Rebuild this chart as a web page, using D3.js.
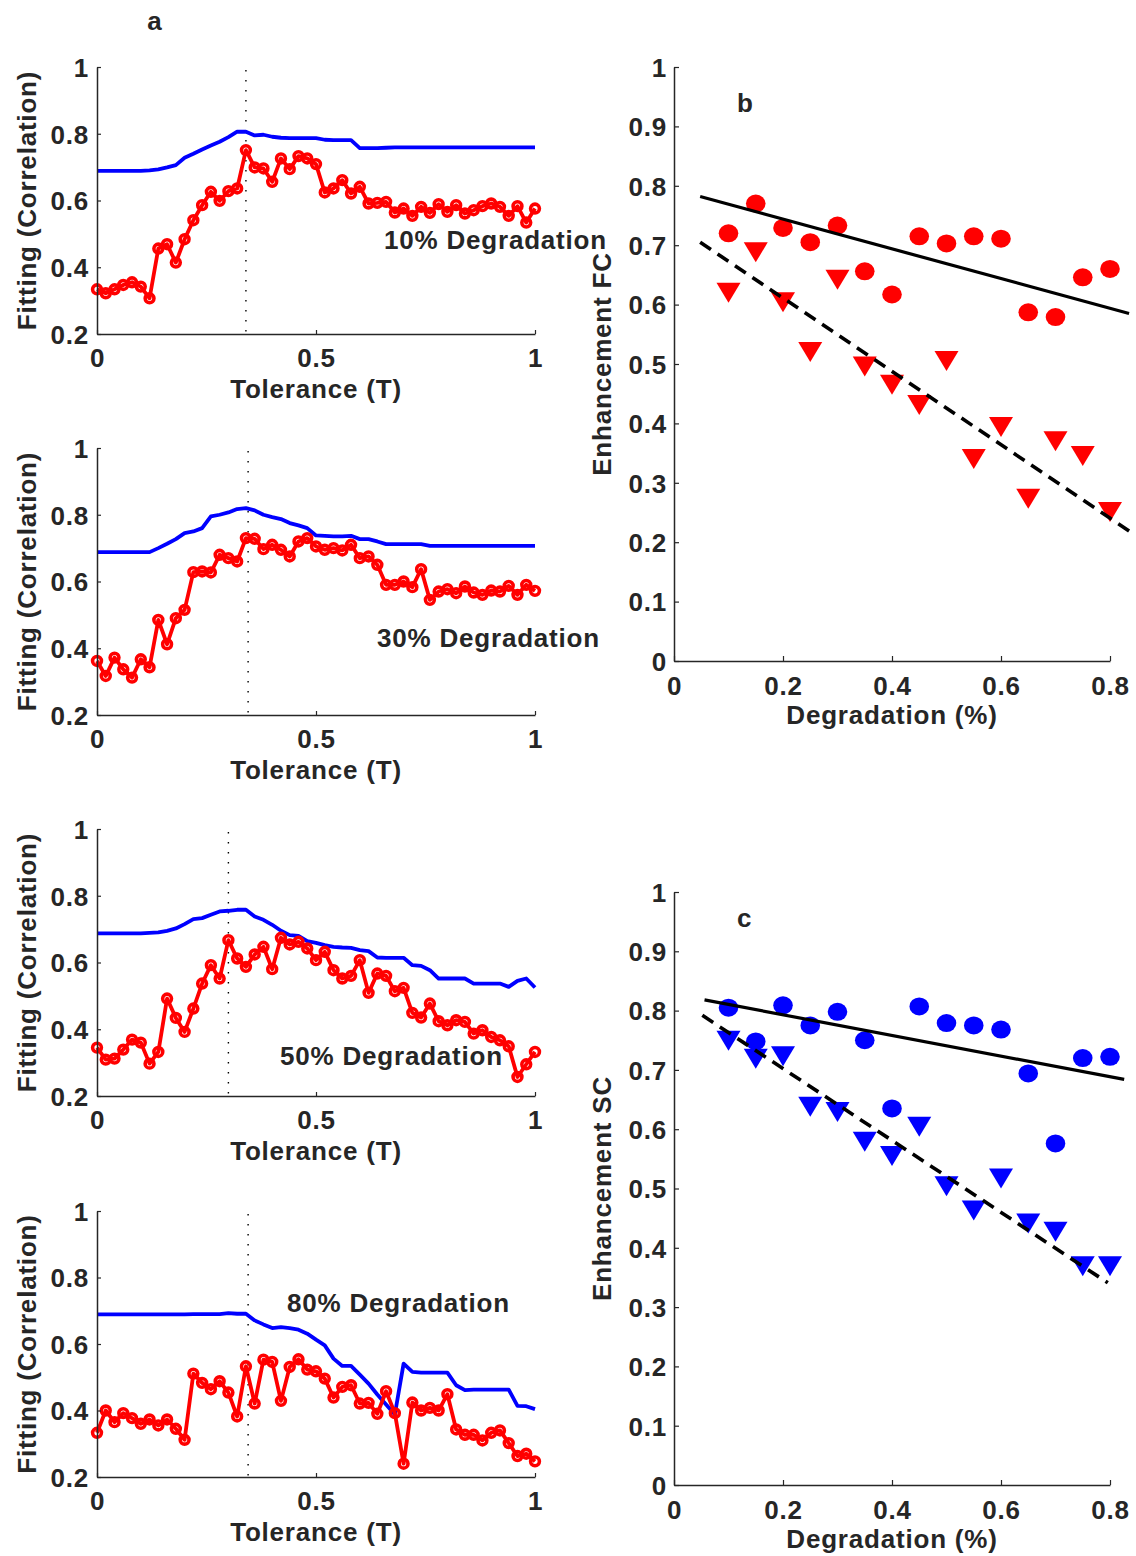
<!DOCTYPE html>
<html><head><meta charset="utf-8">
<script src="https://cdn.jsdelivr.net/npm/d3@7"></script>
<style>
body{margin:0;background:#fff;}
text{font-family:"Liberation Sans",Arial,Helvetica,sans-serif;font-weight:bold;fill:#262626;letter-spacing:0.8px;}
</style></head><body>
<svg id="chart" width="1136" height="1556"></svg>
<script>
// ---------------- DATA ----------------
const tolerance = [0,0.02,0.04,0.06,0.08,0.1,0.12,0.14,0.16,0.18,0.2,0.22,0.24,0.26,0.28,0.3,0.32,0.34,0.36,0.38,0.4,0.42,0.44,0.46,0.48,0.5,0.52,0.54,0.56,0.58,0.6,0.62,0.64,0.66,0.68,0.7,0.72,0.74,0.76,0.78,0.8,0.82,0.84,0.86,0.88,0.9,0.92,0.94,0.96,0.98,1];

const red10 = [0.334,0.322,0.334,0.347,0.355, 0.342,0.307,0.456,0.469,0.414, 0.484,0.541,0.586,0.626,0.599, 0.628,0.636,0.751,0.699,0.696, 0.656,0.726,0.694,0.733,0.726, 0.709,0.624,0.636,0.661,0.621, 0.641,0.591,0.593,0.596,0.564, 0.576,0.554,0.581,0.563,0.589, 0.566,0.586,0.561,0.571,0.583, 0.591,0.581,0.554,0.583,0.534, 0.576];
const blue10 = [0.689,0.689,0.689,0.689,0.689, 0.689,0.690,0.693,0.699,0.706, 0.728,0.740,0.753,0.765,0.776, 0.790,0.806,0.806,0.795,0.797, 0.791,0.788,0.787,0.787,0.787, 0.787,0.782,0.781,0.781,0.781, 0.757,0.757,0.757,0.758,0.759, 0.759,0.759,0.759,0.759,0.759, 0.759,0.759,0.759,0.759,0.759, 0.759,0.759,0.759,0.759,0.759, 0.759];

const red30 = [0.362,0.317,0.372,0.337,0.312, 0.367,0.343,0.485,0.412,0.490, 0.515,0.628,0.630,0.627,0.680, 0.670,0.660,0.730,0.728,0.697, 0.710,0.695,0.675,0.720,0.730, 0.705,0.695,0.700,0.693,0.710, 0.670,0.675,0.650,0.590,0.590, 0.600,0.583,0.637,0.545,0.570, 0.577,0.565,0.585,0.567,0.560, 0.573,0.570,0.587,0.560,0.590, 0.572];
const blue30 = [0.688,0.688,0.688,0.688,0.688, 0.688,0.688,0.700,0.713,0.727, 0.745,0.750,0.760,0.795,0.800, 0.807,0.817,0.820,0.813,0.800, 0.793,0.787,0.775,0.768,0.760, 0.738,0.737,0.735,0.735,0.737, 0.727,0.727,0.720,0.712,0.712, 0.712,0.712,0.712,0.707,0.707, 0.707,0.707,0.707,0.707,0.707, 0.707,0.707,0.707,0.707,0.707, 0.707];

const red50 = [0.345,0.309,0.312,0.339,0.369, 0.360,0.297,0.332,0.492,0.434, 0.392,0.462,0.537,0.592,0.552, 0.667,0.612,0.587,0.624,0.647, 0.580,0.674,0.654,0.662,0.642, 0.607,0.632,0.577,0.552,0.560, 0.607,0.509,0.567,0.560,0.514, 0.524,0.449,0.435,0.477,0.424, 0.412,0.427,0.422,0.387,0.397, 0.377,0.367,0.349,0.257,0.295, 0.332];
const blue50 = [0.687,0.687,0.687,0.687,0.687, 0.687,0.689,0.690,0.695,0.702, 0.715,0.730,0.733,0.743,0.753, 0.755,0.758,0.758,0.738,0.728, 0.713,0.695,0.682,0.680,0.664, 0.659,0.652,0.647,0.645,0.644, 0.637,0.634,0.615,0.614,0.614, 0.614,0.592,0.590,0.577,0.552, 0.552,0.552,0.552,0.537,0.537, 0.537,0.537,0.527,0.545,0.552, 0.525];

const red80 = [0.333,0.400,0.365,0.392,0.377, 0.360,0.373,0.355,0.373,0.345, 0.312,0.511,0.483,0.464,0.488, 0.454,0.382,0.533,0.421,0.553, 0.546,0.429,0.531,0.554,0.523, 0.518,0.496,0.439,0.471,0.476, 0.421,0.423,0.390,0.458,0.392, 0.240,0.424,0.400,0.408,0.400, 0.449,0.343,0.327,0.327,0.310, 0.333,0.340,0.302,0.263,0.270, 0.247];
const blue80 = [0.689,0.689,0.689,0.689,0.689, 0.689,0.689,0.689,0.689,0.689, 0.689,0.690,0.690,0.690,0.690, 0.693,0.691,0.691,0.671,0.659, 0.648,0.651,0.648,0.643,0.631, 0.613,0.596,0.556,0.534,0.534, 0.508,0.481,0.448,0.418,0.388, 0.541,0.516,0.514,0.514,0.514, 0.514,0.476,0.461,0.463,0.463, 0.463,0.463,0.463,0.414,0.413, 0.404];

const degradationLabels = ["10% Degradation","30% Degradation","50% Degradation","80% Degradation"];
const optimalTolerance = [0.34, 0.345, 0.30, 0.345];

const fittingTicks = [0.2,0.4,0.6,0.8,1];
const toleranceTicks = [0,0.5,1];

const degradation = [0.1,0.15,0.2,0.25,0.3,0.35,0.4,0.45,0.5,0.55,0.6,0.65,0.7,0.75,0.8];
const fcCircles   = [0.720,0.770,0.729,0.705,0.733,0.656,0.617,0.715,0.703,0.715,0.711,0.587,0.579,0.646,0.660];
const fcTriangles = [0.620,0.688,0.604,0.520,0.642,0.496,0.465,0.431,0.505,0.340,0.394,0.273,0.370,0.345,0.251];
const scCircles   = [0.805,0.748,0.809,0.775,0.798,0.750,0.635,0.807,0.779,0.775,0.768,0.694,0.576,0.720,0.722];
const scTriangles = [0.749,0.719,0.723,0.638,0.629,0.579,0.555,0.604,0.504,0.463,0.517,0.441,0.427,0.369,0.369];

// fit lines: [x0, x1] and y-values at those ends
const fcFitX = [0.048, 0.835], fcFitSolid = [0.782, 0.585], fcFitDashed = [0.705, 0.219];
const scFitX = [0.056, 0.826], scFitSolid = [0.818, 0.684];
const scDashX = [0.052, 0.796], scFitDashed = [0.792, 0.341];

const enhTicks = [0,0.1,0.2,0.3,0.4,0.5,0.6,0.7,0.8,0.9,1];
const degTicks = [0,0.2,0.4,0.6,0.8];

// ---------------- DRAW ----------------
const svg = d3.select("#chart");
const FS = 26;
const ink = "#262626";
const RED = "#ff0000", BLUE = "#0000ff";

function fmt(d){ return (d===0||d===1) ? String(d) : d3.format(".1f")(d); }

function styleAxis(g){
  g.selectAll("path.domain").attr("stroke", ink).attr("stroke-width", 1.5);
  g.selectAll(".tick line").attr("stroke", ink).attr("stroke-width", 1.2);
  g.selectAll(".tick text").style("font-size", FS+"px").attr("fill", ink)
    .style("font-family",'"Liberation Sans",Arial,sans-serif').style("font-weight","bold");
}

const leftPanels = [
  {red: red10, blue: blue10, top: 67,   bottom: 334,  tx: 384, ty: 249},
  {red: red30, blue: blue30, top: 448,  bottom: 715,  tx: 377, ty: 647},
  {red: red50, blue: blue50, top: 829,  bottom: 1096, tx: 280, ty: 1065},
  {red: red80, blue: blue80, top: 1211, bottom: 1477, tx: 287, ty: 1312}
];
const LX0 = 97, LX1 = 535;

leftPanels.forEach((p, k) => {
  const x = d3.scaleLinear().domain([0,1]).range([LX0, LX1]);
  const y = d3.scaleLinear().domain([0.2,1]).range([p.bottom, p.top]);
  const g = svg.append("g");

  g.append("line")
    .attr("x1", x(optimalTolerance[k])).attr("x2", x(optimalTolerance[k]))
    .attr("y1", p.top + 3).attr("y2", p.bottom)
    .attr("stroke", "#000").attr("stroke-width", 1.4)
    .attr("stroke-dasharray", "1.4,8.6");

  const line = d3.line().x((d,i)=>x(tolerance[i])).y(d=>y(d));
  g.append("path").datum(p.blue).attr("d", line)
    .attr("fill","none").attr("stroke", BLUE).attr("stroke-width", 3.8).attr("stroke-linejoin","round");
  g.append("path").datum(p.red).attr("d", line)
    .attr("fill","none").attr("stroke", RED).attr("stroke-width", 3.8).attr("stroke-linejoin","round");
  g.selectAll("circle.m").data(p.red).join("circle")
    .attr("cx",(d,i)=>x(tolerance[i])).attr("cy", d=>y(d)).attr("r", 4.4)
    .attr("fill","none").attr("stroke", RED).attr("stroke-width", 3.6);

  const ay = g.append("g").attr("transform", `translate(${LX0},0)`)
    .call(d3.axisLeft(y).tickValues(fittingTicks).tickFormat(fmt).tickSizeInner(-4).tickSizeOuter(0).tickPadding(8));
  styleAxis(ay);
  ay.selectAll(".tick text").attr("dy","0.36em");
  const ax = g.append("g").attr("transform", `translate(0,${p.bottom})`)
    .call(d3.axisBottom(x).tickValues(toleranceTicks).tickFormat(fmt).tickSizeInner(-4).tickSizeOuter(0).tickPadding(14.5));
  styleAxis(ax);

  g.append("text").attr("x", (LX0+LX1)/2).attr("y", p.bottom + 64)
    .attr("text-anchor","middle").style("font-size", FS+"px").text("Tolerance (T)");
  g.append("text").attr("transform", `translate(36,${(p.top+p.bottom)/2}) rotate(-90)`)
    .attr("text-anchor","middle").style("font-size", FS+"px").text("Fitting (Correlation)");
  g.append("text").attr("x", p.tx).attr("y", p.ty).style("font-size", FS+"px").text(degradationLabels[k]);
});

svg.append("text").attr("x",155).attr("y",30).attr("text-anchor","middle").style("font-size",FS+"px").text("a");

const rightPanels = [
  {circles: fcCircles, tris: fcTriangles, color: RED, top: 67, bottom: 661, ylabel: "Enhancement FC", tag: "b", tagY: 112,
   solidX: fcFitX, solid: fcFitSolid, dashX: fcFitX, dashed: fcFitDashed},
  {circles: scCircles, tris: scTriangles, color: BLUE, top: 892, bottom: 1485, ylabel: "Enhancement SC", tag: "c", tagY: 927,
   solidX: scFitX, solid: scFitSolid, dashX: scDashX, dashed: scFitDashed}
];
const RX0 = 674, RX1 = 1110;

rightPanels.forEach(p => {
  const x = d3.scaleLinear().domain([0,0.8]).range([RX0, RX1]);
  const y = d3.scaleLinear().domain([0,1]).range([p.bottom, p.top]);
  const g = svg.append("g");

  const ay = g.append("g").attr("transform", `translate(${RX0},0)`)
    .call(d3.axisLeft(y).tickValues(enhTicks).tickFormat(fmt).tickSizeInner(-5).tickSizeOuter(0).tickPadding(7));
  styleAxis(ay);
  ay.selectAll(".tick text").attr("dy","0.36em");
  const ax = g.append("g").attr("transform", `translate(0,${p.bottom})`)
    .call(d3.axisBottom(x).tickValues(degTicks).tickFormat(fmt).tickSizeInner(-5).tickSizeOuter(0).tickPadding(15.5));
  styleAxis(ax);

  g.selectAll("ellipse.c").data(p.circles).join("ellipse")
    .attr("cx",(d,i)=>x(degradation[i])).attr("cy", d=>y(d)).attr("rx", 9.8).attr("ry", 9)
    .attr("fill", p.color);
  g.selectAll("path.t").data(p.tris).join("path")
    .attr("d",(d,i)=>{ const cx = x(degradation[i]), cy = y(d);
      return `M${cx-12},${cy-10}L${cx+12},${cy-10}L${cx},${cy+10}Z`; })
    .attr("fill", p.color);

  g.append("line").attr("x1", x(p.solidX[0])).attr("x2", x(p.solidX[1]))
    .attr("y1", y(p.solid[0])).attr("y2", y(p.solid[1]))
    .attr("stroke","#000").attr("stroke-width",3.2);
  g.append("line").attr("x1", x(p.dashX[0])).attr("x2", x(p.dashX[1]))
    .attr("y1", y(p.dashed[0])).attr("y2", y(p.dashed[1]))
    .attr("stroke","#000").attr("stroke-width",3.6).attr("stroke-dasharray","13,8");

  g.append("text").attr("x", (RX0+RX1)/2).attr("y", p.bottom + 63)
    .attr("text-anchor","middle").style("font-size", FS+"px").text("Degradation (%)");
  g.append("text").attr("transform", `translate(611,${(p.top+p.bottom)/2}) rotate(-90)`)
    .attr("text-anchor","middle").style("font-size", FS+"px").text(p.ylabel);
  g.append("text").attr("x", 737).attr("y", p.tagY).style("font-size", FS+"px").text(p.tag);
});
</script>
</body></html>
